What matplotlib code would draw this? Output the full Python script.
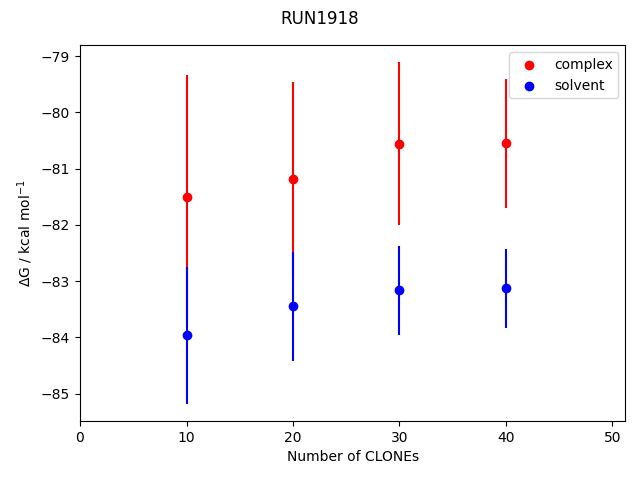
import numpy as np
import matplotlib
matplotlib.use("Agg")
import matplotlib.pyplot as plt

n_clones = [10, 20, 30, 40]
complex_dg = [-81.50, -81.18, -80.56, -80.55]
complex_err = [2.17, 1.71, 1.45, 1.15]
solvent_dg = [-83.96, -83.45, -83.16, -83.13]
solvent_err = [1.22, 0.96, 0.79, 0.71]


def plot_convergence(run="RUN1918"):
    fig = plt.figure(figsize=(6.4, 4.8))
    plt.errorbar(n_clones, complex_dg, yerr=complex_err, fmt="none", ecolor="red")
    plt.scatter(n_clones, complex_dg, color="red", label="complex")
    plt.errorbar(n_clones, solvent_dg, yerr=solvent_err, fmt="none", ecolor="blue")
    plt.scatter(n_clones, solvent_dg, color="blue", label="solvent")
    plt.xlim(0, 51.2)
    plt.xlabel("Number of CLONEs")
    plt.ylabel(r"$\Delta$G / kcal mol$^{-1}$")
    plt.legend()
    fig.suptitle(run)
    plt.subplots_adjust(left=0.125, right=0.977, top=0.906, bottom=0.123)


if __name__ == "__main__":
    plot_convergence()
    plt.savefig("out.png", dpi=100)
